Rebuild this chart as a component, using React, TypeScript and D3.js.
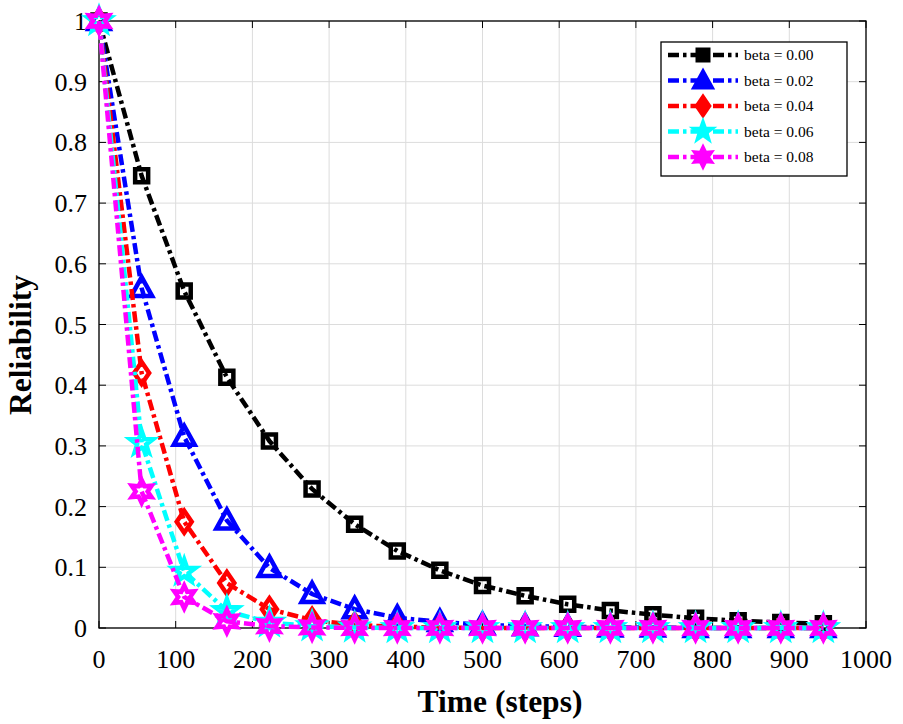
import React from "react";
import * as d3 from "d3";

const timeSteps = [0, 55.6, 111.1, 166.7, 222.2, 277.8, 333.3, 388.9, 444.4, 500, 555.6, 611.1, 666.7, 722.2, 777.8, 833.3, 888.9, 944.4];
const beta000 = [1, 0.745, 0.555, 0.413, 0.308, 0.229, 0.171, 0.127, 0.095, 0.07, 0.053, 0.039, 0.029, 0.022, 0.016, 0.012, 0.009, 0.007];
const beta002 = [1, 0.56, 0.315, 0.177, 0.099, 0.056, 0.031, 0.017, 0.01, 0.005, 0.003, 0.002, 0.001, 0.001, 0, 0, 0, 0];
const beta004 = [1, 0.42, 0.175, 0.074, 0.031, 0.013, 0.005, 0.002, 0.001, 0, 0, 0, 0, 0, 0, 0, 0, 0];
const beta006 = [1, 0.305, 0.093, 0.028, 0.009, 0.003, 0.001, 0, 0, 0, 0, 0, 0, 0, 0, 0, 0, 0];
const beta008 = [1, 0.225, 0.051, 0.011, 0.003, 0.001, 0, 0, 0, 0, 0, 0, 0, 0, 0, 0, 0, 0];

const seriesNames = ["beta = 0.00", "beta = 0.02", "beta = 0.04", "beta = 0.06", "beta = 0.08"];
const seriesColors = ["#000000", "#0000ff", "#ff0000", "#00ffff", "#ff00ff"];
const seriesMarkers = ["square", "triangle", "diamond", "star", "hexagram"];
const seriesValues = [beta000, beta002, beta004, beta006, beta008];

const xTicks = [0, 100, 200, 300, 400, 500, 600, 700, 800, 900, 1000];
const yTicks = [0, 0.1, 0.2, 0.3, 0.4, 0.5, 0.6, 0.7, 0.8, 0.9, 1];

const W = 903, H = 724;
const L = 99, R = 866, TOP = 21, BOT = 628;

function markerPath(kind: string): string {
  const p = d3.path();
  if (kind === "square") {
    const s = 6.5;
    p.rect(-s, -s, 2 * s, 2 * s);
  } else if (kind === "triangle") {
    p.moveTo(0, -11);
    p.lineTo(10.5, 8);
    p.lineTo(-10.5, 8);
    p.closePath();
  } else if (kind === "diamond") {
    p.moveTo(0, -11);
    p.lineTo(7.5, 0);
    p.lineTo(0, 11);
    p.lineTo(-7.5, 0);
    p.closePath();
  } else if (kind === "star") {
    const ro = 12, ri = 4.8;
    for (let i = 0; i < 10; i++) {
      const r = i % 2 === 0 ? ro : ri;
      const a = -Math.PI / 2 + (i * Math.PI) / 5;
      if (i === 0) p.moveTo(r * Math.cos(a), r * Math.sin(a));
      else p.lineTo(r * Math.cos(a), r * Math.sin(a));
    }
    p.closePath();
  } else if (kind === "hexagram") {
    const ro = 11.5, ri = 6;
    for (let i = 0; i < 12; i++) {
      const r = i % 2 === 0 ? ro : ri;
      const a = -Math.PI / 2 + (i * Math.PI) / 6;
      if (i === 0) p.moveTo(r * Math.cos(a), r * Math.sin(a));
      else p.lineTo(r * Math.cos(a), r * Math.sin(a));
    }
    p.closePath();
  }
  return p.toString();
}

export default function App() {
  const x = d3.scaleLinear().domain([0, 1000]).range([L, R]);
  const y = d3.scaleLinear().domain([0, 1]).range([BOT, TOP]);
  const line = d3
    .line<[number, number]>()
    .x((d) => x(d[0]))
    .y((d) => y(d[1]));
  const dash = "11,4,3.5,4";
  const serif = "'Liberation Serif', 'Times New Roman', serif";
  const tickLen = 7;

  const legX = 661, legY = 42, legW = 186, legH = 134;
  const rowY = (i: number) => 55 + i * 25.5;

  return (
    <svg width={W} height={H} style={{ position: "absolute", left: 0, top: 0, background: "#fff" }} fontFamily={serif}>
      <rect x={0} y={0} width={W} height={H} fill="#fff" />
      {xTicks.map((t) => (
        <line key={"gx" + t} x1={x(t)} x2={x(t)} y1={TOP} y2={BOT} stroke="#dcdcdc" strokeWidth={1} />
      ))}
      {yTicks.map((t) => (
        <line key={"gy" + t} x1={L} x2={R} y1={y(t)} y2={y(t)} stroke="#dcdcdc" strokeWidth={1} />
      ))}
      {xTicks.map((t) => (
        <g key={"tx" + t}>
          <line x1={x(t)} x2={x(t)} y1={BOT} y2={BOT - tickLen} stroke="#000" strokeWidth={1} />
          <line x1={x(t)} x2={x(t)} y1={TOP} y2={TOP + tickLen} stroke="#000" strokeWidth={1} />
          <text x={x(t)} y={668} fontSize={26} textAnchor="middle" fill="#000">
            {t}
          </text>
        </g>
      ))}
      {yTicks.map((t) => (
        <g key={"ty" + t}>
          <line x1={L} x2={L + tickLen} y1={y(t)} y2={y(t)} stroke="#000" strokeWidth={1} />
          <line x1={R} x2={R - tickLen} y1={y(t)} y2={y(t)} stroke="#000" strokeWidth={1} />
          <text x={87} y={y(t) + 9} fontSize={26} textAnchor="end" fill="#000">
            {d3.format("")(t)}
          </text>
        </g>
      ))}
      <rect x={L} y={TOP} width={R - L} height={BOT - TOP} fill="none" stroke="#000" strokeWidth={1.3} />
      {seriesValues.map((vals, si) => {
        const pts = timeSteps.map((t, i) => [t, vals[i]] as [number, number]);
        return (
          <g key={"s" + si}>
            <path d={line(pts) || ""} fill="none" stroke={seriesColors[si]} strokeWidth={4.5} strokeDasharray={dash} />
            {pts.map((d, i) => (
              <path
                key={i}
                d={markerPath(seriesMarkers[si])}
                transform={`translate(${x(d[0])},${y(d[1])})`}
                fill="none"
                stroke={seriesColors[si]}
                strokeWidth={4.5}
                strokeLinejoin="miter"
              />
            ))}
          </g>
        );
      })}
      <rect x={legX} y={legY} width={legW} height={legH} fill="#fff" stroke="#000" strokeWidth={1.3} />
      {seriesNames.map((n, i) => (
        <g key={"l" + i}>
          <line x1={668} x2={738} y1={rowY(i)} y2={rowY(i)} stroke={seriesColors[i]} strokeWidth={4.5} strokeDasharray={dash} />
          <path
            d={markerPath(seriesMarkers[i])}
            transform={`translate(703,${rowY(i)})`}
            fill={seriesColors[i]}
            stroke={seriesColors[i]}
            strokeWidth={2}
          />
          <text x={744} y={rowY(i) + 5} fontSize={15.5} fill="#000">
            {n}
          </text>
        </g>
      ))}
      <text x={500} y={712} fontSize={31.5} fontWeight="bold" textAnchor="middle" fill="#000">
        Time (steps)
      </text>
      <text transform="translate(31,345) rotate(-90)" fontSize={31.5} fontWeight="bold" textAnchor="middle" fill="#000">
        Reliability
      </text>
    </svg>
  );
}
